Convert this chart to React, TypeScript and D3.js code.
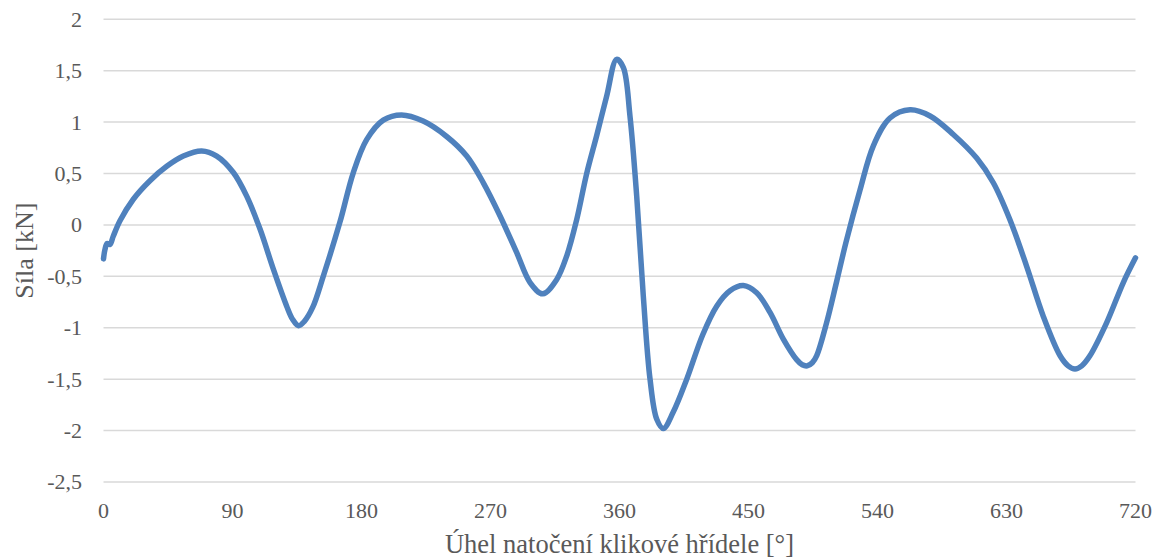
import * as d3 from "d3";
import { useEffect, useRef } from "react";

// crank angle [deg]
const angles = [
  0, 1, 2.5, 4.5, 6.8, 11.5, 20.8, 32.4, 44.1, 55.7, 68.5, 79, 90.6, 99.9,
  109.2, 118.5, 127.8, 132, 136, 140, 146, 153.3, 165, 174.3, 183.6, 195.2, 208,
  223, 239.4, 253.4, 265, 276.6, 288.3, 297.6, 306.5, 316.2, 323.2, 330.1,
  337.1, 344.1, 351, 358, 362.7, 367.3, 372, 376.6, 381.3, 386, 390.6, 397.5,
  406.9, 418, 427.8, 437.1, 446.4, 455.7, 465, 474.3, 483.6, 487.5, 491, 494.5,
  497.6, 504.5, 511.5, 518, 527.8, 537.1, 548.7, 562.7, 576.7, 592.9, 609.2,
  620.8, 632.4, 644, 655.7, 667.3, 673, 677.8, 682.5, 688.3, 699.9, 711.5, 720,
];

// force [kN]
const forces = [
  -0.33, -0.24, -0.18, -0.19, -0.11, 0.04, 0.25, 0.43, 0.57, 0.67, 0.72, 0.67,
  0.51, 0.28, -0.04, -0.43, -0.79, -0.92, -0.98, -0.94, -0.8, -0.5, 0.03, 0.51,
  0.83, 1.02, 1.07, 1.01, 0.86, 0.67, 0.41, 0.09, -0.27, -0.56, -0.67, -0.53,
  -0.3, 0.05, 0.5, 0.87, 1.25, 1.61, 1.53, 1.06, 0.28, -0.69, -1.5, -1.89,
  -1.98, -1.82, -1.5, -1.07, -0.79, -0.64, -0.59, -0.66, -0.85, -1.11, -1.31,
  -1.36, -1.37, -1.34, -1.27, -0.95, -0.55, -0.17, 0.34, 0.77, 1.04, 1.12,
  1.06, 0.88, 0.65, 0.41, 0.05, -0.4, -0.89, -1.27, -1.37, -1.4, -1.37, -1.27,
  -0.95, -0.56, -0.32,
];

const xTicks = [0, 90, 180, 270, 360, 450, 540, 630, 720];
const yTicks = [2, 1.5, 1, 0.5, 0, -0.5, -1, -1.5, -2, -2.5];

const xTitle = "Úhel natočení klikové hřídele [°]";
const yTitle = "Síla [kN]";

function App() {
  const ref = useRef(null);
  const width = 1154;
  const height = 560;
  const left = 103.5;
  const right = 1135.5;
  const top = 19.3;
  const bottom = 482;

  useEffect(() => {
    const svg = d3.select(ref.current);
    svg.selectAll("*").remove();

    const x = d3.scaleLinear().domain([0, 720]).range([left, right]);
    const y = d3.scaleLinear().domain([-2.5, 2]).range([bottom, top]);
    const fmt = (v: number) => String(v).replace(".", ",");
    const font = "'Liberation Serif', 'Times New Roman', serif";
    const textColor = "#595959";

    // gridlines
    svg
      .append("g")
      .selectAll("line")
      .data(yTicks)
      .join("line")
      .attr("x1", left)
      .attr("x2", right)
      .attr("y1", (d) => y(d))
      .attr("y2", (d) => y(d))
      .attr("stroke", "#d9d9d9")
      .attr("stroke-width", 1.5);

    // y tick labels
    svg
      .append("g")
      .selectAll("text")
      .data(yTicks)
      .join("text")
      .attr("x", 82)
      .attr("y", (d) => y(d))
      .attr("dy", "0.34em")
      .attr("text-anchor", "end")
      .attr("font-family", font)
      .attr("font-size", 22)
      .attr("fill", textColor)
      .text(fmt);

    // x tick labels
    svg
      .append("g")
      .selectAll("text")
      .data(xTicks)
      .join("text")
      .attr("x", (d) => x(d))
      .attr("y", 518)
      .attr("text-anchor", "middle")
      .attr("font-family", font)
      .attr("font-size", 22)
      .attr("fill", textColor)
      .text(fmt);

    // axis titles
    svg
      .append("text")
      .attr("x", (left + right) / 2)
      .attr("y", 553)
      .attr("text-anchor", "middle")
      .attr("font-family", font)
      .attr("font-size", 26.5)
      .attr("fill", textColor)
      .text(xTitle);

    svg
      .append("text")
      .attr("transform", `translate(33,${(top + bottom) / 2}) rotate(-90)`)
      .attr("text-anchor", "middle")
      .attr("font-family", font)
      .attr("font-size", 26)
      .attr("fill", textColor)
      .text(yTitle);

    // the series
    const data = angles.map((a, i) => [a, forces[i]] as [number, number]);
    const line = d3
      .line<[number, number]>()
      .x((d) => x(d[0]))
      .y((d) => y(d[1]))
      .curve(d3.curveCatmullRom.alpha(0.5));

    svg
      .append("path")
      .datum(data)
      .attr("d", line)
      .attr("fill", "none")
      .attr("stroke", "#4f81bd")
      .attr("stroke-width", 5.5)
      .attr("stroke-linejoin", "round")
      .attr("stroke-linecap", "round");
  });

  return (
    <svg
      ref={ref}
      width={width}
      height={height}
      style={{ position: "absolute", left: 0, top: 0, background: "#fff" }}
    />
  );
}

export default App;
